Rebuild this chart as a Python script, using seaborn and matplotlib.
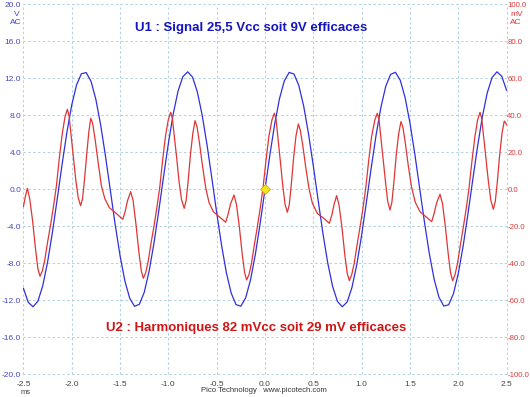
import numpy as np
import pandas as pd
import seaborn as sns
import matplotlib.pyplot as plt

t_u1 = [round(-2.5 + 0.05 * k, 2) for k in range(101)]
u1_volts = [
    -10.69, -12.22, -12.70, -12.09, -10.44, -7.89, -4.67, -1.05, 2.67, 6.16,
    9.11, 11.29, 12.49, 12.62, 11.67, 9.71, 6.93, 3.54, -0.15, -3.83,
    -7.17, -9.90, -11.78, -12.65, -12.43, -11.15, -8.90, -5.89, -2.38, 1.34,
    4.95, 8.13, 10.61, 12.18, 12.70, 12.13, 10.52, 8.01, 4.81, 1.19,
    -2.52, -6.02, -9.01, -11.22, -12.46, -12.64, -11.73, -9.80, -7.05, -3.68,
    0.00, 3.68, 7.05, 9.80, 11.73, 12.64, 12.46, 11.22, 9.01, 6.02,
    2.52, -1.19, -4.81, -8.01, -10.52, -12.13, -12.70, -12.18, -10.61, -8.13,
    -4.95, -1.34, 2.38, 5.89, 8.90, 11.15, 12.43, 12.65, 11.78, 9.90,
    7.17, 3.83, 0.15, -3.54, -6.93, -9.71, -11.67, -12.62, -12.49, -11.29,
    -9.11, -6.16, -2.67, 1.05, 4.67, 7.89, 10.44, 12.09, 12.70, 12.22,
    10.69,
]

t_u2 = [
    -2.500, -2.480, -2.459, -2.435, -2.405, -2.375, -2.350,
    -2.328, -2.303, -2.278, -2.248, -2.218, -2.188, -2.158, -2.128, -2.098, -2.070,
    -2.045, -2.028, -2.008, -1.983, -1.958, -1.933, -1.908, -1.888, -1.868, -1.843,
    -1.823, -1.803, -1.783, -1.758, -1.728, -1.693, -1.658, -1.611, -1.540, -1.472,
    -1.447, -1.422, -1.390, -1.365, -1.335, -1.305, -1.280,
    -1.259, -1.234, -1.209, -1.179, -1.149, -1.119, -1.089, -1.059, -1.029, -1.001,
    -0.976, -0.959, -0.939, -0.914, -0.889, -0.864, -0.836, -0.816, -0.796, -0.771,
    -0.746, -0.724, -0.704, -0.679, -0.649, -0.614, -0.580, -0.535, -0.470, -0.407,
    -0.382, -0.357, -0.321, -0.296, -0.266, -0.236, -0.211,
    -0.190, -0.165, -0.140, -0.110, -0.080, -0.050, -0.020, 0.010, 0.040, 0.072,
    0.097, 0.114, 0.134, 0.159, 0.184, 0.207, 0.231, 0.251, 0.271, 0.296,
    0.321, 0.345, 0.365, 0.390, 0.420, 0.455, 0.490, 0.541, 0.604, 0.666,
    0.691, 0.716, 0.741, 0.766, 0.796, 0.826, 0.851,
    0.873, 0.898, 0.923, 0.953, 0.983, 1.013, 1.043, 1.073, 1.103, 1.137,
    1.162, 1.179, 1.199, 1.224, 1.249, 1.270, 1.293, 1.313, 1.333, 1.358,
    1.383, 1.407, 1.427, 1.452, 1.482, 1.517, 1.555, 1.604, 1.665, 1.725,
    1.750, 1.775, 1.811, 1.836, 1.866, 1.896, 1.921,
    1.942, 1.967, 1.992, 2.022, 2.052, 2.082, 2.112, 2.142, 2.172, 2.200,
    2.225, 2.242, 2.262, 2.287, 2.312, 2.337, 2.363, 2.383, 2.403, 2.428,
    2.453, 2.476, 2.490, 2.500,
]
u2_mv = [
    -9.4, -4.0, 0.5, -5.0, -17.0, -32.0, -43.0,
    -47.0, -44.0, -38.0, -28.0, -19.0, -9.0, 2.0, 17.0, 30.0, 39.0,
    43.2, 40.0, 30.0, 18.0, 5.0, -4.5, -8.9, -5.0, 5.0, 20.0,
    31.0, 38.4, 35.5, 27.0, 15.0, 2.0, -5.0, -9.9, -13.0, -16.2,
    -12.0, -6.0, -1.3, -6.0, -19.0, -34.0, -44.0,
    -48.1, -45.0, -39.0, -29.0, -20.0, -10.0, 1.0, 16.0, 29.0, 37.5,
    41.6, 38.5, 29.0, 17.0, 4.0, -5.5, -10.3, -6.0, 4.0, 19.0,
    30.5, 37.1, 34.0, 25.5, 13.5, 1.0, -7.0, -12.1, -15.0, -17.8,
    -13.5, -8.0, -3.1, -8.0, -20.0, -35.0, -45.0,
    -49.0, -46.0, -40.0, -30.0, -20.5, -10.5, 1.0, 15.5, 28.5, 37.5,
    41.1, 38.0, 28.0, 15.0, 2.0, -8.0, -12.4, -8.5, 2.0, 17.0,
    29.0, 35.3, 32.0, 24.0, 12.5, 0.5, -7.5, -13.0, -15.5, -18.4,
    -14.0, -8.0, -3.4, -8.5, -20.5, -35.5, -45.5,
    -49.4, -46.0, -40.0, -30.0, -20.5, -10.5, 1.0, 15.5, 28.5, 37.5,
    41.1, 38.0, 28.0, 16.0, 3.0, -6.5, -11.2, -7.0, 3.5, 18.5,
    30.0, 36.6, 33.5, 25.0, 13.0, 1.0, -7.0, -12.1, -14.8, -17.5,
    -13.0, -7.5, -2.7, -7.5, -20.0, -35.0, -45.5,
    -49.4, -46.0, -40.0, -30.0, -20.5, -10.5, 1.0, 15.5, 28.5, 37.5,
    41.6, 38.5, 28.5, 16.5, 4.0, -6.0, -10.8, -6.5, 3.5, 18.5,
    30.5, 36.9, 36.0, 34.8,
]

x_ticks = [-2.5, -2.0, -1.5, -1.0, -0.5, 0.0, 0.5, 1.0, 1.5, 2.0, 2.5]
v_ticks = [-20, -16, -12, -8, -4, 0, 4, 8, 12, 16, 20]
mv_ticks = [-100, -80, -60, -40, -20, 0, 20, 40, 60, 80, 100]

df_u1 = pd.DataFrame({"t": t_u1, "v": u1_volts})
df_u2 = pd.DataFrame({"t": t_u2, "mv": u2_mv})

sns.set_style("white")
plt.rcParams["font.family"] = ["Liberation Sans", "DejaVu Sans"]

W, H = 530, 397
fig = plt.figure(figsize=(W / 100, H / 100), dpi=100)
fig.subplots_adjust(left=23.4 / W, right=506.6 / W, top=1 - 4.3 / H, bottom=1 - 374.3 / H)
ax = fig.add_subplot(111)
ax2 = ax.twinx()

blue = "#3030dc"
red = "#e03535"
grid_col = "#b0d0e2"

sns.lineplot(data=df_u1, x="t", y="v", ax=ax, color=blue, lw=0.9, sort=False)
sns.lineplot(data=df_u2, x="t", y="mv", ax=ax2, color=red, lw=0.9, sort=False)
ax2.plot([0], [0], marker="D", ms=5.5, color="#f4e41c", mec="#c8b000", mew=0.6, zorder=5)

ax.set_xlim(-2.5, 2.5)
ax.set_ylim(-20, 20)
ax2.set_ylim(-100, 100)
ax.set_xticks(x_ticks)
ax.set_yticks(v_ticks)
ax2.set_yticks(mv_ticks)
ax.set_xticklabels([f"{v:.1f}" for v in x_ticks])
ax.set_yticklabels([f"{v:.1f}" for v in v_ticks])
ax2.set_yticklabels([f"{v:.1f}" for v in mv_ticks])
ax.set_xlabel("")
ax.set_ylabel("")
ax2.set_ylabel("")

ax.grid(True, color=grid_col, ls=(0, (2.5, 2.5)), lw=0.7)
for a in (ax, ax2):
    for s in a.spines.values():
        s.set_visible(False)
for gl in ax.get_xgridlines() + ax.get_ygridlines():
    gl.set_clip_on(False)

ax.tick_params(axis="x", length=0, pad=5, labelsize=6, labelcolor="#444444")
ax.tick_params(axis="y", length=0, pad=1.5, labelsize=6, labelcolor="#4545c8")
ax2.tick_params(axis="y", length=0, pad=0.5, labelsize=5.6, labelcolor="#dd3a3a")

def px(x, y):
    return x / W, 1 - y / H

fig.text(*px(17, 14), "V", color="#4545c8", fontsize=6, ha="center", va="center")
fig.text(*px(16, 22), "AC", color="#4545c8", fontsize=6, ha="center", va="center")
fig.text(*px(510, 14), "mV", color="#dd3a3a", fontsize=6, ha="left", va="center")
fig.text(*px(510, 22), "AC", color="#dd3a3a", fontsize=6, ha="left", va="center")
fig.text(*px(26, 393), "ms", color="#444444", fontsize=5.5, ha="center", va="center")
fig.text(*px(264, 391), "Pico Technology   www.picotech.com", color="#333333",
         fontsize=5.5, ha="center", va="center")

fig.text(*px(251, 28), "U1 : Signal 25,5 Vcc soit 9V efficaces", color="#1515c0",
         fontsize=9.5, fontweight="bold", ha="center", va="center")
fig.text(*px(256, 328), "U2 : Harmoniques 82 mVcc soit 29 mV efficaces", color="#d01515",
         fontsize=9.5, fontweight="bold", ha="center", va="center")

fig.savefig("out.png", dpi=100, facecolor="white")
